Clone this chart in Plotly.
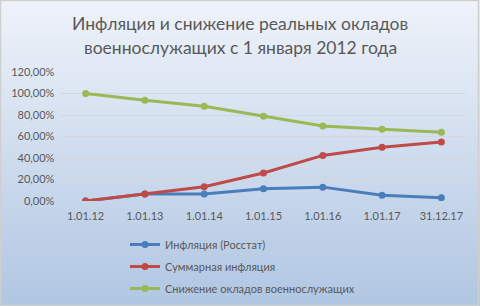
import plotly.graph_objects as go

categories = ["1.01.12", "1.01.13", "1.01.14", "1.01.15", "1.01.16", "1.01.17", "31.12.17"]
inflation_rosstat = [0.0, 0.066, 0.065, 0.114, 0.129, 0.054, 0.030]
total_inflation = [0.0, 0.066, 0.132, 0.261, 0.424, 0.501, 0.548]
salary_decline = [1.0, 0.937, 0.882, 0.789, 0.697, 0.668, 0.640]

series_names = ["Инфляция (Росстат)", "Суммарная инфляция", "Снижение окладов военнослужащих"]
series_values = [inflation_rosstat, total_inflation, salary_decline]
series_colors = ["#4A7EBB", "#BE4B48", "#98B954"]
title_lines = ["Инфляция и снижение реальных окладов", "военнослужащих с 1 января 2012 года"]

W, H = 480, 306
ML, MR, MT, MB = 61, 14, 72, 105
plot_h = H - MT - MB
plot_w = W - ML - MR

fig = go.Figure()
for i, (name, vals, col) in enumerate(zip(series_names, series_values, series_colors)):
    fig.add_trace(go.Scatter(
        x=categories, y=vals, name=name, mode="lines+markers",
        line=dict(color=col, width=3), marker=dict(color=col, size=7),
        legendgroup=f"g{i}",
    ))

def px_to_py(y):
    return (H - MB - y) / plot_h

def px_to_px(x):
    return (x - ML) / plot_w

shapes = []
top = (0xEF, 0xF3, 0xFA)
bot = (0xB0, 0xC6, 0xE2)
n = 102
for k in range(n):
    y0 = k * H / n
    y1 = (k + 1) * H / n + 0.5
    t = (k + 0.5) / n
    c = tuple(round(top[j] + (bot[j] - top[j]) * t) for j in range(3))
    shapes.append(dict(type="rect", xref="paper", yref="paper", layer="below",
                       x0=px_to_px(0), x1=px_to_px(W), y0=px_to_py(y1), y1=px_to_py(y0),
                       line=dict(width=0), fillcolor="rgb(%d,%d,%d)" % c))
shapes.append(dict(type="rect", xref="paper", yref="paper", layer="below",
                   x0=px_to_px(0.5), x1=px_to_px(W - 1.5), y0=px_to_py(H - 0.5), y1=px_to_py(0.5),
                   line=dict(width=1.5, color="#CFCFCF"), fillcolor="rgba(0,0,0,0)"))

annotations = []
for line_text, ycen in zip(title_lines, [23, 47]):
    annotations.append(dict(text=line_text, xref="paper", yref="paper",
                            x=px_to_px(240), y=px_to_py(ycen), xanchor="center", yanchor="middle",
                            showarrow=False, font=dict(size=17.5, color="#595959")))

fig.update_layout(
    width=W, height=H,
    margin=dict(l=ML, r=MR, t=MT, b=MB, autoexpand=False),
    paper_bgcolor="#DCE6F2", plot_bgcolor="rgba(0,0,0,0)",
    separators=", ",
    font=dict(family="Lato, 'Noto Sans', sans-serif", color="#595959", size=11),
    showlegend=True,
    legend=dict(orientation="v", xref="container", yref="container",
                x=125 / W, xanchor="left", y=1 - 230 / H, yanchor="top",
                bgcolor="rgba(0,0,0,0)", font=dict(size=11, color="#595959"),
                tracegroupgap=3, itemwidth=30),
    shapes=shapes,
    annotations=annotations,
)
fig.update_xaxes(type="category", showgrid=False, showline=False, zeroline=False, automargin=False,
                 ticks="", ticklabelstandoff=7, tickfont=dict(size=11, color="#595959"))
fig.update_yaxes(range=[0, 1.2], dtick=0.2, tickformat=".2%", showgrid=True, automargin=False,
                 gridcolor="#D4D8DE", gridwidth=1, zeroline=False, showline=False,
                 ticks="", ticksuffix="  ", tickfont=dict(size=11, color="#595959"))

fig.write_html("out.html")
